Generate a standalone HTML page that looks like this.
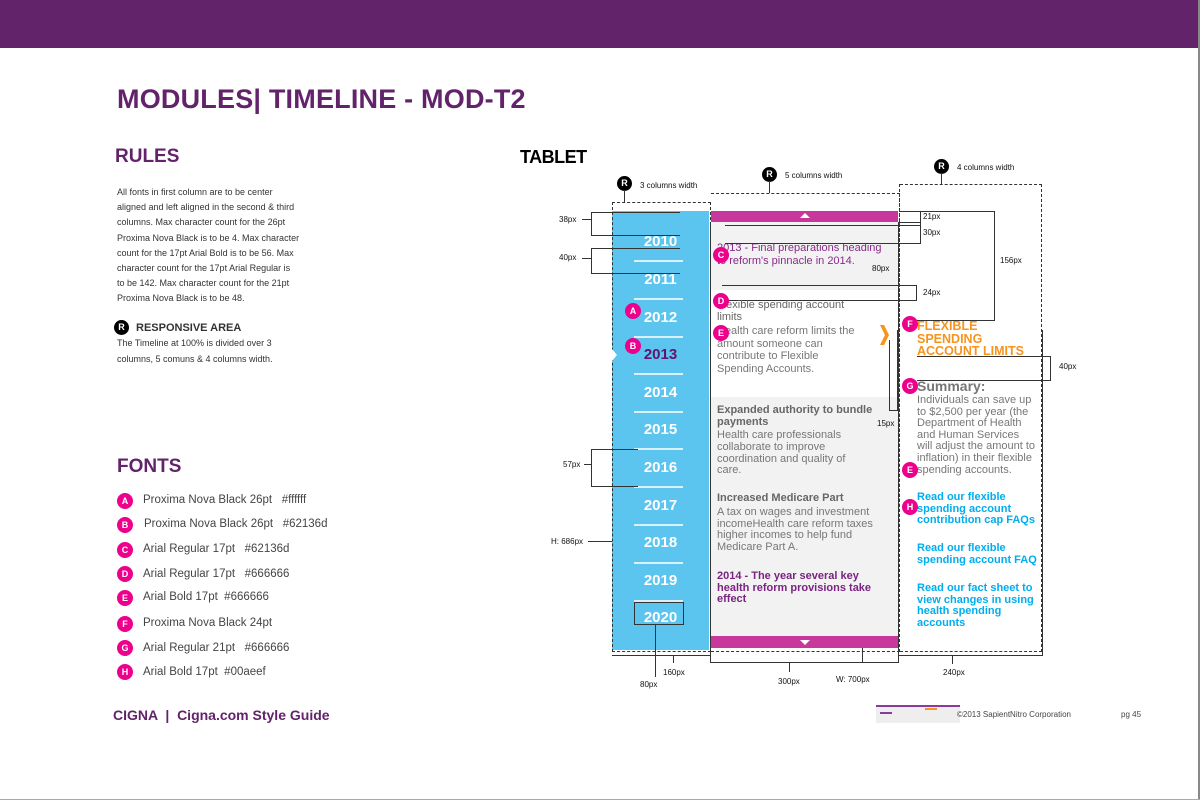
<!DOCTYPE html>
<html><head><meta charset="utf-8"><style>
*{margin:0;padding:0;box-sizing:border-box}
body{width:1200px;height:800px;position:relative;background:#fff;font-family:"Liberation Sans",Arial,sans-serif;overflow:hidden}
.a{position:absolute;white-space:nowrap}
.c{position:absolute;width:16px;height:16px;border-radius:50%;background:#ec008c;color:#fff;font:bold 9px/16px "Liberation Sans",sans-serif;text-align:center}
.r{position:absolute;width:15px;height:15px;border-radius:50%;background:#000;color:#fff;font:bold 9px/15px "Liberation Sans",sans-serif;text-align:center}
.t{font-size:9px;color:#333}
.f{font-size:11.5px;color:#444}
.y{position:absolute;left:612px;width:97px;text-align:center;color:#fff;font:900 15px "Liberation Sans",sans-serif}
.s{position:absolute;left:634px;width:49px;height:2px;background:#d9f1fc}
.g{font-size:11px;color:#777;position:absolute;left:717px}
.gb{font-size:11px;color:#666;font-weight:bold;position:absolute;left:717px}
.rg{font-size:11px;color:#777;position:absolute;left:917px}
.l{font-size:11px;color:#00aeef;font-weight:bold;position:absolute;left:917px}
.ln{position:absolute;background:#333}
.m{font-size:8px;color:#111;position:absolute}
</style></head><body>
<div class="a" style="left:0;top:0;width:1200px;height:48px;background:#62236a"></div>
<div class="a" style="right:0;top:0;width:2px;height:800px;background:#888"></div>
<div class="a" style="left:0;bottom:0;width:1200px;height:1px;background:#aaa"></div>
<div class="a" style="left:117px;top:84px;font-size:27px;font-weight:bold;color:#62236a;letter-spacing:0.2px">MODULES| TIMELINE - MOD-T2</div>
<div class="a" style="left:115px;top:146px;font-size:19px;font-weight:bold;color:#62236a">RULES</div>
<div class="a t" style="left:117px;top:185px;line-height:15.2px">All fonts in first column are to be center<br>aligned and left aligned in the second &amp; third<br>columns. Max character count for the 26pt<br>Proxima Nova Black is to be 4. Max character<br>count for the 17pt Arial Bold is to be 56. Max<br>character count for the 17pt Arial Regular is<br>to be 142. Max character count for the 21pt<br>Proxima Nova Black is to be 48.</div>
<div class="r" style="left:114px;top:320px">R</div>
<div class="a" style="left:136px;top:322px;font-size:11px;font-weight:bold;color:#333">RESPONSIVE AREA</div>
<div class="a t" style="left:117px;top:336px;line-height:15.5px">The Timeline at 100% is divided over 3<br>columns, 5 comuns &amp; 4 columns width.</div>
<div class="a" style="left:117px;top:456px;font-size:19px;font-weight:bold;color:#62236a">FONTS</div>
<div class="c" style="left:117px;top:493px">A</div><div class="a f" style="left:143px;top:494px">Proxima Nova Black 26pt &nbsp;&nbsp;#ffffff</div>
<div class="c" style="left:117px;top:517px">B</div><div class="a f" style="left:144px;top:518px">Proxima Nova Black 26pt &nbsp;&nbsp;#62136d</div>
<div class="c" style="left:117px;top:542px">C</div><div class="a f" style="left:143px;top:543px">Arial Regular 17pt &nbsp;&nbsp;#62136d</div>
<div class="c" style="left:117px;top:566px">D</div><div class="a f" style="left:143px;top:568px">Arial Regular 17pt &nbsp;&nbsp;#666666</div>
<div class="c" style="left:117px;top:590px">E</div><div class="a f" style="left:143px;top:591px">Arial Bold 17pt &nbsp;#666666</div>
<div class="c" style="left:117px;top:616px">F</div><div class="a f" style="left:143px;top:617px">Proxima Nova Black 24pt</div>
<div class="c" style="left:117px;top:640px">G</div><div class="a f" style="left:143px;top:642px">Arial Regular 21pt &nbsp;&nbsp;#666666</div>
<div class="c" style="left:117px;top:664px">H</div><div class="a f" style="left:143px;top:666px">Arial Bold 17pt &nbsp;#00aeef</div>
<div class="a" style="left:113px;top:707px;font-size:14px;font-weight:bold;color:#62236a">CIGNA &nbsp;| &nbsp;Cigna.com Style Guide</div>
<div class="a" style="left:876px;top:705px;width:84px;height:18px;background:#eee"></div>
<div class="a" style="left:876px;top:705px;width:84px;height:2px;background:#8a3a9a"></div>
<div class="a" style="left:880px;top:712px;width:12px;height:2px;background:#8a3a9a"></div>
<div class="a" style="left:925px;top:708px;width:12px;height:2px;background:#f7941d"></div>
<div class="a" style="left:957px;top:710px;font-size:8px;color:#444">©2013 SapientNitro Corporation</div>
<div class="a" style="left:1121px;top:710px;font-size:8px;color:#444">pg 45</div>

<div class="a" style="left:520px;top:147px;font-size:18px;font-weight:bold;color:#000;letter-spacing:-0.5px">TABLET</div>
<div class="a" style="left:612px;top:211px;width:97px;height:439px;background:#5bc4ef"></div>
<div class="a" style="left:711px;top:222px;width:187px;height:68px;background:#f2f2f2"></div>
<div class="a" style="left:711px;top:397px;width:187px;height:239px;background:#f2f2f2"></div>
<div class="a" style="left:711px;top:211px;width:187px;height:11px;background:#c8379b"></div>
<div class="a" style="left:711px;top:636px;width:187px;height:12px;background:#c8379b"></div>
<div class="a" style="left:800px;top:213px;border-left:5px solid transparent;border-right:5px solid transparent;border-bottom:5px solid #fff"></div>
<div class="a" style="left:800px;top:640px;border-left:5px solid transparent;border-right:5px solid transparent;border-top:5px solid #fff"></div>
<div class="a" style="left:612px;top:202px;width:99px;height:450px;border:1.3px dashed #333"></div>
<div class="a" style="left:711px;top:193px;width:189px;height:459px;border:1.3px dashed #333;border-left:none"></div>
<div class="a" style="left:900px;top:184px;width:142px;height:468px;border:1.3px dashed #333;border-left:none"></div>
<div class="a" style="left:899px;top:184px;width:1px;height:468px;border-left:1.3px dashed #333"></div>
<div class="ln" style="left:612px;top:655px;width:99px;height:1px"></div>
<div class="ln" style="left:710px;top:222px;width:1px;height:440px"></div>
<div class="ln" style="left:898px;top:222px;width:1px;height:440px"></div>
<div class="ln" style="left:710px;top:662px;width:189px;height:1px"></div>
<div class="ln" style="left:898px;top:655px;width:144px;height:1px"></div>
<div class="ln" style="left:1042px;top:330px;width:1px;height:326px"></div>
<div class="r" style="left:617px;top:176px">R</div><div class="m" style="left:640px;top:181px">3 columns width</div>
<div class="ln" style="left:624px;top:190px;width:1px;height:12px"></div>
<div class="r" style="left:762px;top:167px">R</div><div class="m" style="left:785px;top:171px">5 columns width</div>
<div class="ln" style="left:769px;top:181px;width:1px;height:12px"></div>
<div class="r" style="left:934px;top:159px">R</div><div class="m" style="left:957px;top:163px">4 columns width</div>
<div class="ln" style="left:941px;top:173px;width:1px;height:11px"></div>
<div class="y" style="top:233px">2010</div><div class="s" style="top:260px"></div>
<div class="y" style="top:271px">2011</div><div class="s" style="top:298px"></div>
<div class="y" style="top:309px">2012</div><div class="s" style="top:336px"></div>
<div class="y" style="top:346px;color:#62136d">2013</div><div class="s" style="top:373px"></div>
<div class="y" style="top:384px">2014</div><div class="s" style="top:411px"></div>
<div class="y" style="top:421px">2015</div><div class="s" style="top:448px"></div>
<div class="y" style="top:459px">2016</div><div class="s" style="top:486px"></div>
<div class="y" style="top:497px">2017</div><div class="s" style="top:524px"></div>
<div class="y" style="top:534px">2018</div><div class="s" style="top:562px"></div>
<div class="y" style="top:572px">2019</div><div class="s" style="top:600px"></div>
<div class="y" style="top:609px">2020</div>
<div class="a" style="left:612px;top:349px;border-top:6px solid transparent;border-bottom:6px solid transparent;border-left:5px solid #fff"></div>
<div class="a" style="left:634px;top:602px;width:50px;height:23px;border:1px solid #333"></div>
<div class="ln" style="left:655px;top:625px;width:1px;height:52px"></div>
<div class="m" style="left:640px;top:680px">80px</div>
<div class="ln" style="left:673px;top:655px;width:1px;height:8px"></div>
<div class="m" style="left:663px;top:668px">160px</div>
<div class="ln" style="left:789px;top:662px;width:1px;height:10px"></div>
<div class="m" style="left:778px;top:677px">300px</div>
<div class="ln" style="left:862px;top:648px;width:1px;height:15px"></div>
<div class="m" style="left:836px;top:675px">W: 700px</div>
<div class="ln" style="left:952px;top:655px;width:1px;height:9px"></div>
<div class="m" style="left:943px;top:668px">240px</div>
<div class="m" style="left:559px;top:215px">38px</div><div class="ln" style="left:582px;top:219px;width:9px;height:1px"></div>
<div class="a" style="left:591px;top:212px;width:89px;height:24px;border:1px solid #333;border-right:none"></div>
<div class="m" style="left:559px;top:253px">40px</div><div class="ln" style="left:582px;top:258px;width:9px;height:1px"></div>
<div class="a" style="left:591px;top:248px;width:89px;height:26px;border:1px solid #333;border-right:none"></div>
<div class="m" style="left:563px;top:460px">57px</div><div class="ln" style="left:584px;top:464px;width:7px;height:1px"></div>
<div class="a" style="left:591px;top:449px;width:47px;height:38px;border:1px solid #333;border-right:none"></div>
<div class="m" style="left:551px;top:537px">H: 686px</div><div class="ln" style="left:588px;top:541px;width:24px;height:1px"></div>
<div class="a" style="left:717px;top:242px;font-size:11px;color:#8a2a8a;line-height:12.5px">2013 - Final preparations heading<br>to reform's pinnacle in 2014.</div>
<div class="m" style="left:872px;top:264px">80px</div>
<div class="ln" style="left:725px;top:225px;width:196px;height:1px"></div>
<div class="ln" style="left:725px;top:243px;width:196px;height:1px"></div>
<div class="ln" style="left:920px;top:222px;width:1px;height:21px"></div>
<div class="ln" style="left:899px;top:211px;width:95px;height:1px"></div>
<div class="ln" style="left:920px;top:211px;width:1px;height:11px"></div>
<div class="ln" style="left:899px;top:222px;width:22px;height:1px"></div>
<div class="ln" style="left:994px;top:211px;width:1px;height:109px"></div>
<div class="ln" style="left:910px;top:320px;width:85px;height:1px"></div>
<div class="m" style="left:923px;top:212px">21px</div><div class="m" style="left:923px;top:228px">30px</div>
<div class="m" style="left:1000px;top:256px">156px</div>
<div class="ln" style="left:722px;top:285px;width:195px;height:1px"></div>
<div class="ln" style="left:722px;top:300px;width:195px;height:1px"></div>
<div class="ln" style="left:916px;top:285px;width:1px;height:16px"></div>
<div class="m" style="left:923px;top:288px">24px</div>
<div class="a" style="left:717px;top:300px;font-size:11px;color:#666;line-height:11.5px">Flexible spending account<br>limits</div>
<div class="a" style="left:717px;top:325px;font-size:11px;color:#777;line-height:12.5px">Health care reform limits the<br>amount someone can<br>contribute to Flexible<br>Spending Accounts.</div>
<div class="a" style="left:880px;top:325px;width:9px;height:20px;background:#f7941d;clip-path:polygon(0 0,45% 0,100% 50%,45% 100%,0 100%,55% 50%)"></div>
<div class="ln" style="left:889px;top:340px;width:1px;height:70px"></div>
<div class="ln" style="left:897px;top:330px;width:1px;height:80px"></div>
<div class="ln" style="left:889px;top:410px;width:9px;height:1px"></div>
<div class="m" style="left:877px;top:419px">15px</div>
<div class="a gb" style="top:404px;line-height:12px">Expanded authority to bundle<br>payments</div>
<div class="a g" style="top:430px;line-height:11.8px">Health care professionals<br>collaborate to improve<br>coordination and quality of<br>care.</div>
<div class="a gb" style="top:492px">Increased Medicare Part</div>
<div class="a g" style="top:507px;line-height:11.6px">A tax on wages and investment<br>incomeHealth care reform taxes<br>higher incomes to help fund<br>Medicare Part A.</div>
<div class="a" style="left:717px;top:571px;font-size:11px;font-weight:bold;color:#7a2380;line-height:11.5px">2014 - The year several key<br>health reform provisions take<br>effect</div>
<div class="a" style="left:917px;top:320px;font:900 12.5px/12.5px 'Liberation Sans',sans-serif;color:#f7941d">FLEXIBLE<br>SPENDING<br>ACCOUNT LIMITS</div>
<div class="ln" style="left:917px;top:356px;width:134px;height:1px"></div>
<div class="ln" style="left:917px;top:380px;width:134px;height:1px"></div>
<div class="ln" style="left:1050px;top:356px;width:1px;height:25px"></div>
<div class="m" style="left:1059px;top:362px">40px</div>
<div class="a" style="left:917px;top:378px;font-size:14px;font-weight:bold;color:#777">Summary:</div>
<div class="a rg" style="top:395px;line-height:11.6px">Individuals can save up<br>to $2,500 per year (the<br>Department of Health<br>and Human Services<br>will adjust the amount to<br>inflation) in their flexible<br>spending accounts.</div>
<div class="a l" style="top:492px;line-height:11.6px">Read our flexible<br>spending account<br>contribution cap FAQs</div>
<div class="a l" style="top:543px;line-height:11.6px">Read our flexible<br>spending account FAQ</div>
<div class="a l" style="top:583px;line-height:11.6px">Read our fact sheet to<br>view changes in using<br>health spending<br>accounts</div>
<div class="c" style="left:625px;top:303px">A</div>
<div class="c" style="left:625px;top:338px">B</div>
<div class="c" style="left:713px;top:247px">C</div>
<div class="c" style="left:713px;top:293px">D</div>
<div class="c" style="left:713px;top:325px">E</div>
<div class="c" style="left:902px;top:316px">F</div>
<div class="c" style="left:902px;top:378px">G</div>
<div class="c" style="left:902px;top:462px">E</div>
<div class="c" style="left:902px;top:499px">H</div>
</body></html>
